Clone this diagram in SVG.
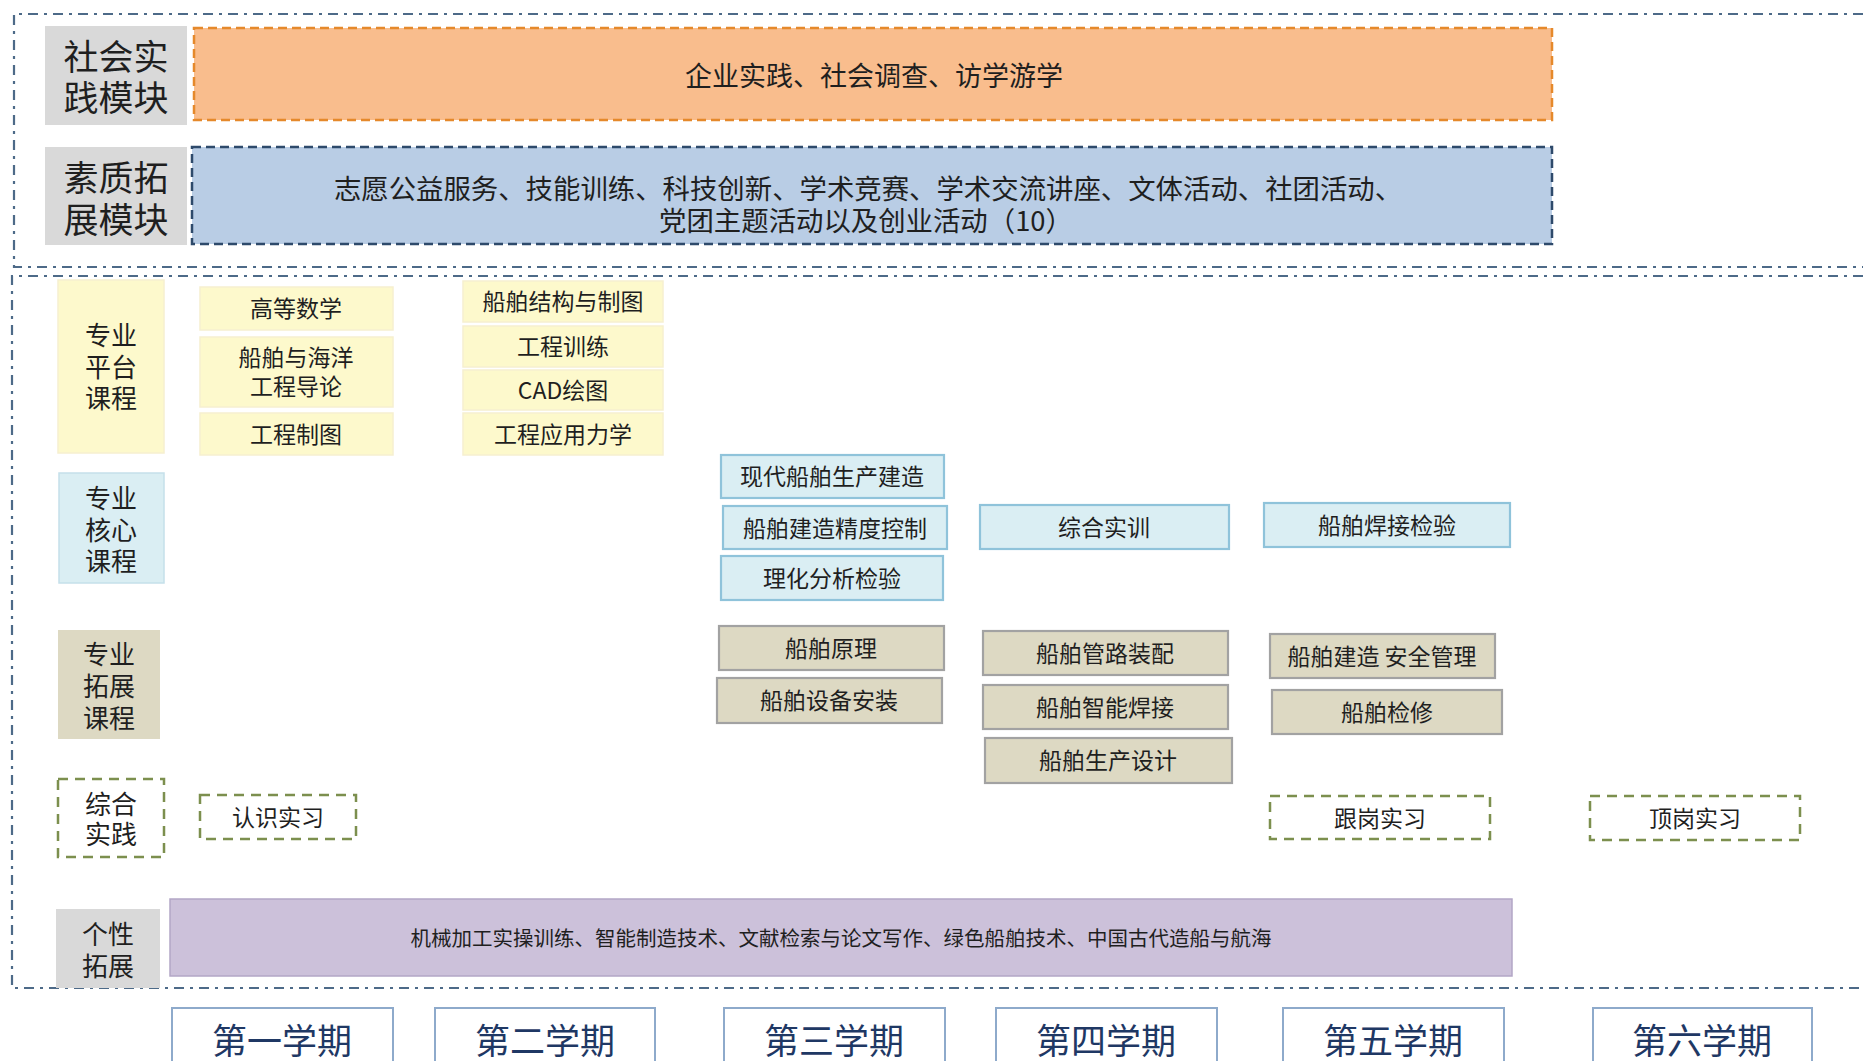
<svg xmlns="http://www.w3.org/2000/svg" width="1863" height="1061" viewBox="0 0 1863 1061">
<style>
text{font-family:"Noto Sans CJK SC","Noto Sans",sans-serif;fill:#1f1f1f;text-anchor:middle;dominant-baseline:central}
.frame{fill:none;stroke:#4d6a88;stroke-width:2.2;stroke-dasharray:10 6 3 6}
.gray{fill:#d9d9d9}
.big{font-size:35px}
.lab{font-size:26px}
.crs{font-size:23px}
.yel{fill:#fdf9cc;stroke:#f6efd0;stroke-width:1.5}
.core{fill:#daeef3;stroke:#8fc3da;stroke-width:2.2}
.ext{fill:#ddd9c3;stroke:#a2a2a2;stroke-width:2.2}
.prac{fill:none;stroke:#7c8f4e;stroke-width:2.5;stroke-dasharray:10 7}
.sem{fill:#fff;stroke:#8eaacb;stroke-width:2}
.semt{font-size:35px;fill:#1f3864}
</style>
<g id="frames">
<path class="frame" d="M1863 14 H14 V267 H1863"/>
<path class="frame" d="M1863 276 H12 V988 H1863"/>
</g>
<g id="social-label"><rect class="gray" x="45" y="26" width="142" height="99"/><text class="big" x="116" y="54">社会实</text><text class="big" x="116" y="95">践模块</text></g>
<g id="social"><rect x="194" y="28" width="1358" height="92" fill="#f9bd8d" stroke="#e5892b" stroke-width="2.5" stroke-dasharray="9 5"/><text x="874" y="74" font-size="27">企业实践、社会调查、访学游学</text></g>
<g id="quality-label"><rect class="gray" x="45" y="147" width="142" height="98"/><text class="big" x="116" y="175">素质拓</text><text class="big" x="116" y="217">展模块</text></g>
<g id="quality"><rect x="192" y="147" width="1360" height="97" fill="#b9cde5" stroke="#2e4a6b" stroke-width="2.5" stroke-dasharray="9 5"/><text x="868" y="187" font-size="27.4">志愿公益服务、技能训练、科技创新、学术竞赛、学术交流讲座、文体活动、社团活动、</text><text x="866" y="219" font-size="27.4">党团主题活动以及创业活动（10）</text></g>

<g id="platform-label"><rect class="yel" x="58" y="280" width="106" height="173"/><text class="lab" x="111" y="333">专业</text><text class="lab" x="111" y="365">平台</text><text class="lab" x="111" y="396">课程</text></g>
<g id="p1"><rect class="yel" x="200" y="287" width="193" height="43"/><text class="crs" x="296" y="307">高等数学</text></g>
<g id="p2"><rect class="yel" x="200" y="337" width="193" height="70"/><text class="crs" x="296" y="356">船舶与海洋</text><text class="crs" x="296" y="385">工程导论</text></g>
<g id="p3"><rect class="yel" x="200" y="413" width="193" height="42"/><text class="crs" x="296" y="433">工程制图</text></g>
<g id="p4"><rect class="yel" x="463" y="281" width="200" height="41"/><text class="crs" x="563" y="300">船舶结构与制图</text></g>
<g id="p5"><rect class="yel" x="463" y="326" width="200" height="41"/><text class="crs" x="563" y="345">工程训练</text></g>
<g id="p6"><rect class="yel" x="463" y="370" width="200" height="40"/><text class="crs" x="563" y="389">CAD绘图</text></g>
<g id="p7"><rect class="yel" x="463" y="413" width="200" height="42"/><text class="crs" x="563" y="433">工程应用力学</text></g>

<g id="core-label"><rect x="59" y="473" width="105" height="110" fill="#daeef3" stroke="#c5e0ea" stroke-width="1.5"/><text class="lab" x="111" y="496">专业</text><text class="lab" x="111" y="528">核心</text><text class="lab" x="111" y="559">课程</text></g>
<g id="c1"><rect class="core" x="721" y="455" width="223" height="43"/><text class="crs" x="832" y="475">现代船舶生产建造</text></g>
<g id="c2"><rect class="core" x="723" y="506" width="224" height="43"/><text class="crs" x="835" y="527">船舶建造精度控制</text></g>
<g id="c3"><rect class="core" x="721" y="556" width="222" height="44"/><text class="crs" x="832" y="577">理化分析检验</text></g>
<g id="c4"><rect class="core" x="980" y="505" width="249" height="44"/><text class="crs" x="1104" y="526">综合实训</text></g>
<g id="c5"><rect class="core" x="1264" y="503" width="246" height="44"/><text class="crs" x="1387" y="524">船舶焊接检验</text></g>

<g id="ext-label"><rect x="58" y="630" width="102" height="109" fill="#ddd9c3"/><text class="lab" x="109" y="652">专业</text><text class="lab" x="109" y="684">拓展</text><text class="lab" x="109" y="716">课程</text></g>
<g id="e1"><rect class="ext" x="719" y="626" width="225" height="44"/><text class="crs" x="831" y="647">船舶原理</text></g>
<g id="e2"><rect class="ext" x="717" y="678" width="225" height="45"/><text class="crs" x="829" y="699">船舶设备安装</text></g>
<g id="e3"><rect class="ext" x="983" y="631" width="245" height="44"/><text class="crs" x="1105" y="652">船舶管路装配</text></g>
<g id="e4"><rect class="ext" x="983" y="685" width="245" height="44"/><text class="crs" x="1105" y="706">船舶智能焊接</text></g>
<g id="e5"><rect class="ext" x="985" y="738" width="247" height="45"/><text class="crs" x="1108" y="759">船舶生产设计</text></g>
<g id="e6"><rect class="ext" x="1270" y="634" width="225" height="44"/><text class="crs" x="1382" y="655">船舶建造 安全管理</text></g>
<g id="e7"><rect class="ext" x="1272" y="690" width="230" height="44"/><text class="crs" x="1387" y="711">船舶检修</text></g>

<g id="prac-label"><rect class="prac" x="58" y="779" width="106" height="78"/><text class="lab" x="111" y="802">综合</text><text class="lab" x="111" y="832">实践</text></g>
<g id="i1"><rect class="prac" x="200" y="795" width="156" height="44"/><text class="crs" x="278" y="816">认识实习</text></g>
<g id="i2"><rect class="prac" x="1270" y="796" width="220" height="43"/><text class="crs" x="1380" y="817">跟岗实习</text></g>
<g id="i3"><rect class="prac" x="1590" y="796" width="210" height="44"/><text class="crs" x="1695" y="817">顶岗实习</text></g>

<g id="pers-label"><rect class="gray" x="56" y="909" width="104" height="79"/><text class="lab" x="108" y="932">个性</text><text class="lab" x="108" y="964">拓展</text></g>
<g id="pers"><rect x="170" y="899" width="1342" height="77" fill="#ccc1da" stroke="#b3a6c6" stroke-width="1.5"/><text x="841" y="937" font-size="20.5">机械加工实操训练、智能制造技术、文献检索与论文写作、绿色船舶技术、中国古代造船与航海</text></g>

<g id="semesters">
<g id="s1"><rect class="sem" x="172" y="1008" width="221" height="70"/><text class="semt" x="282" y="1038">第一学期</text></g>
<g id="s2"><rect class="sem" x="435" y="1008" width="220" height="70"/><text class="semt" x="545" y="1038">第二学期</text></g>
<g id="s3"><rect class="sem" x="724" y="1008" width="221" height="70"/><text class="semt" x="834" y="1038">第三学期</text></g>
<g id="s4"><rect class="sem" x="996" y="1008" width="221" height="70"/><text class="semt" x="1106" y="1038">第四学期</text></g>
<g id="s5"><rect class="sem" x="1283" y="1008" width="221" height="70"/><text class="semt" x="1393" y="1038">第五学期</text></g>
<g id="s6"><rect class="sem" x="1593" y="1008" width="219" height="70"/><text class="semt" x="1702" y="1038">第六学期</text></g>
</g>
<g id="connectors"/>
</svg>
